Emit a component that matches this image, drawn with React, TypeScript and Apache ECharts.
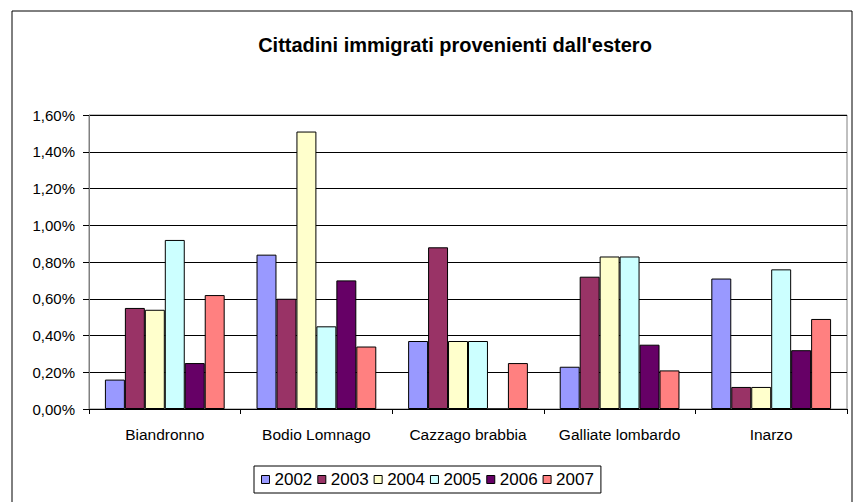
import React, { useEffect, useRef } from "react";
import * as echarts from "echarts";

const categories = ["Biandronno", "Bodio Lomnago", "Cazzago brabbia", "Galliate lombardo", "Inarzo"];
const years = ["2002", "2003", "2004", "2005", "2006", "2007"];
const s2002 = [0.16, 0.84, 0.37, 0.23, 0.71];
const s2003 = [0.55, 0.6, 0.88, 0.72, 0.12];
const s2004 = [0.54, 1.51, 0.37, 0.83, 0.12];
const s2005 = [0.92, 0.45, 0.37, 0.83, 0.76];
const s2006 = [0.25, 0.7, 0, 0.35, 0.32];
const s2007 = [0.62, 0.34, 0.25, 0.21, 0.49];
const seriesValues = [s2002, s2003, s2004, s2005, s2006, s2007];
const colors = ["#9999FF", "#993366", "#FFFFCC", "#CCFFFF", "#660066", "#FF8080"];
const title = "Cittadini immigrati provenienti dall'estero";

const FONT = "'Liberation Sans', Arial, sans-serif";

export default function App() {
  const ref = useRef<HTMLDivElement>(null);
  useEffect(() => {
    const el = ref.current;
    if (!el) return;
    const chart = echarts.init(el, null, { renderer: "svg" });
    chart.setOption({
      animation: false,
      backgroundColor: "#fff",
      textStyle: { fontFamily: FONT, color: "#000" },
      title: {
        text: title,
        left: 450,
        textAlign: "center",
        top: 30,
        textStyle: { fontFamily: FONT, fontSize: 20, fontWeight: "bold", color: "#000" },
      },
      graphic: [
        {
          type: "rect",
          shape: { x: 12, y: 11, width: 840, height: 520 },
          style: { fill: "none", stroke: "#000", lineWidth: 1 },
          silent: true,
          z: 100,
        },
      ],
      legend: {
        data: years,
        left: 254,
        top: 466,
        itemWidth: 8,
        itemHeight: 8,
        itemGap: 5,
        icon: "rect",
        padding: [5, 7, 5, 7],
        borderColor: "#000",
        borderWidth: 1,
        textStyle: { fontFamily: FONT, fontSize: 17, color: "#000" },
        itemStyle: { borderColor: "#000", borderWidth: 1 },
      },
      grid: {
        left: 89,
        right: 7,
        top: 115,
        bottom: 93,
        show: true,
        borderColor: "#808080",
        borderWidth: 1,
        backgroundColor: "#fff",
      },
      xAxis: {
        type: "category",
        data: categories,
        axisLine: { lineStyle: { color: "#000" } },
        axisTick: { show: true, length: 5, lineStyle: { color: "#000" } },
        axisLabel: { interval: 0, fontFamily: FONT, fontSize: 15.5, color: "#000", margin: 17 },
      },
      yAxis: {
        type: "value",
        min: 0,
        max: 1.6,
        interval: 0.2,
        axisLine: { show: true, lineStyle: { color: "#808080" } },
        axisTick: { show: true, length: 6, lineStyle: { color: "#000" } },
        splitLine: { lineStyle: { color: "#000", width: 1 } },
        axisLabel: {
          fontFamily: FONT,
          fontSize: 15,
          color: "#000",
          margin: 14,
          formatter: (v: number) => v.toFixed(2).replace(".", ",") + "%",
        },
      },
      series: years.map((y, i) => ({
        name: y,
        type: "bar",
        data: seriesValues[i],
        barGap: "0%",
        barCategoryGap: "21%",
        itemStyle: { color: colors[i], borderColor: "#000", borderWidth: 1 },
      })),
    });
    return () => chart.dispose();
  }, []);
  return <div ref={ref} style={{ width: 854, height: 502, position: "absolute", left: 0, top: 0 }} />;
}
